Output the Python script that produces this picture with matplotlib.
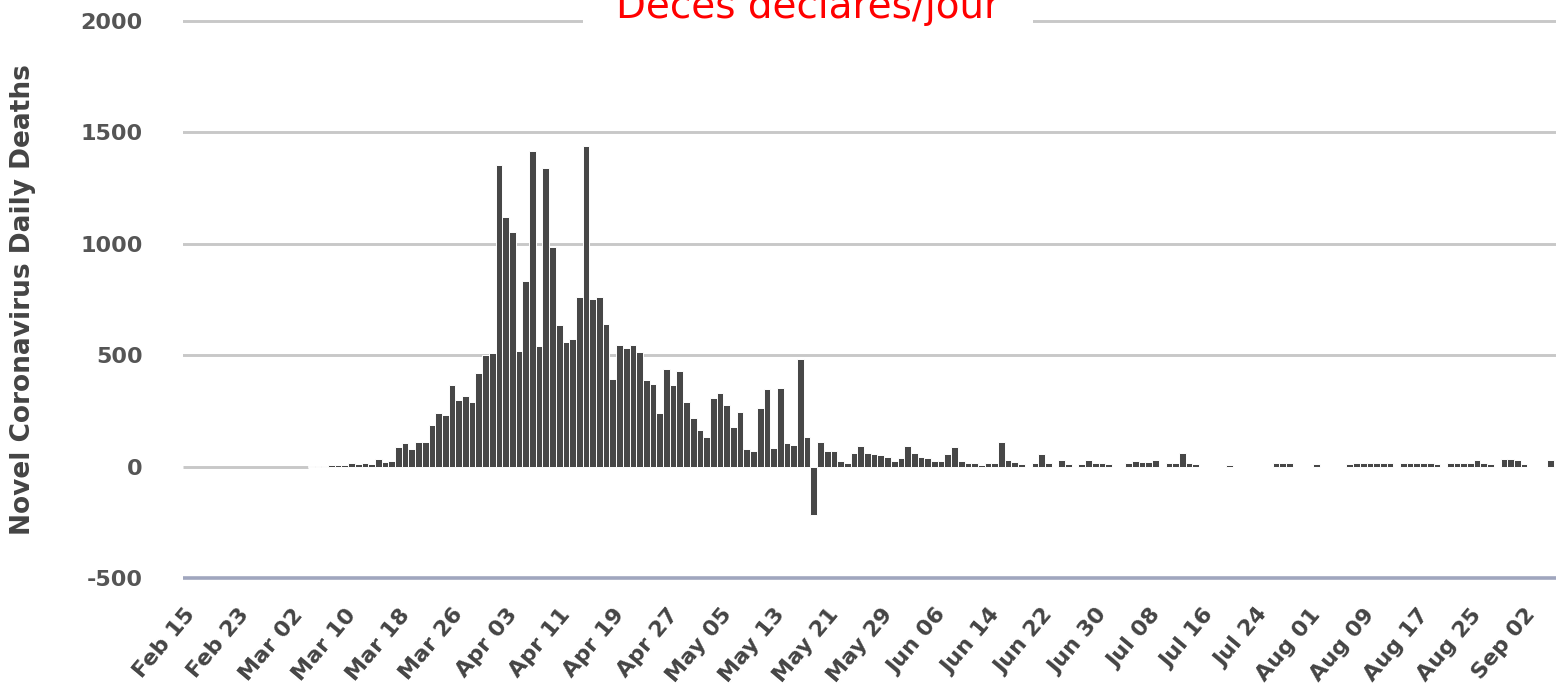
import numpy as np
import pandas as pd
import matplotlib
matplotlib.use("Agg")
import matplotlib.pyplot as plt

# ---------------- data ----------------
start_date = "2020-02-15"
# daily reported deaths (None = no data shown)
feb = [None] * 15                                   # Feb 15 - Feb 29
mar = [None] * 4 + [2, 3, 2, 8, 6,                 # Mar 1 - Mar 9
       8, 15, 13, 18, 12, 36, 21, 27,              # Mar 10 - Mar 17
       89, 108, 78, 112, 112, 186, 240, 231, 365, 299, 319, 292, 418, 499]
apr = [509, 1355, 1120, 1053, 518, 833, 1417, 541, 1341, 987,
       635, 561, 574, 762, 1438, 753, 761, 642, 395, 547,
       531, 544, 516, 389, 369, 242, 437, 367, 427, 289]
may = [218, 166, 135, 306, 330, 278, 178, 243, 80, 70,
       263, 348, 83, 351, 104, 96, 483, 131, -217, 110,
       72, 72, 27, 15, 63, 94, 63, 58, 50, 45, 25]
jun = [40, 94, 63, 45, 40, 25, 25, 55, 87, 25,
       15, 15, 8, 15, 15, 111, 30, 20, 12, 0,
       15, 55, 15, 0, 30, 10, 0, 10, 30, 15]
jul = [15, 10, 0, 0, 15, 25, 20, 20, 30, 0,
       15, 15, 60, 15, 12, 0, 0, 0, 0, 8,
       0, 0, 0, 0, 0, 0, 18, 18, 15, 0, 0]
aug = [0, 10, 0, 0, 0, 0, 12, 18, 18, 18,
       18, 15, 15, 0, 15, 18, 18, 18, 15, 10,
       0, 15, 15, 18, 15, 30, 15, 10, 0, 35, 35]
sep = [30, 12, 0, 0, 0, 30]

x_tick_labels = ["Feb 15", "Feb 23", "Mar 02", "Mar 10", "Mar 18", "Mar 26",
                 "Apr 03", "Apr 11", "Apr 19", "Apr 27", "May 05", "May 13",
                 "May 21", "May 29", "Jun 06", "Jun 14", "Jun 22", "Jun 30",
                 "Jul 08", "Jul 16", "Jul 24", "Aug 01", "Aug 09", "Aug 17",
                 "Aug 25", "Sep 02"]
y_ticks = [-500, 0, 500, 1000, 1500, 2000]

title = "Décès déclarés/jour"
y_label = "Novel Coronavirus Daily Deaths"

# ---------------- build ----------------
values = feb + mar + apr + may + jun + jul + aug + sep
dates = pd.date_range(start_date, periods=len(values), freq="D")
cats = [d.strftime("%b %d") for d in dates]
idx = np.arange(len(values))
vals = np.array([np.nan if v is None else v for v in values], dtype=float)
valid = ~np.isnan(vals)
first_valid = int(np.argmax(valid))

W, H = 1556, 692
fig = plt.figure(figsize=(W / 100, H / 100), dpi=100)

ymin, ymax = -520, 2020
px_per_unit = (578 - 21) / 2500.0
top_px = 21 - (ymax - 2000) * px_per_unit
bot_px = 578 + (-500 - ymin) * px_per_unit
ax = fig.add_axes([183 / W, 1 - bot_px / H, (W - 183) / W, (bot_px - top_px) / H])

xl = (-0.15, 204.78)
ax.set_xlim(*xl)
ax.set_ylim(ymin, ymax)

grid_col = "#c8c8c8"
for yv in y_ticks:
    if yv == -500:
        ax.axhline(yv, color="#a0a6be", lw=2.6, zorder=1)
    elif yv == 0:
        ax.hlines(yv, xl[0], first_valid - 0.5, color=grid_col, lw=2.1, zorder=1)
    else:
        ax.axhline(yv, color=grid_col, lw=2.1, zorder=1)

ax.bar(idx[valid], vals[valid], width=1.0, color="#474747",
       edgecolor="white", linewidth=0.7, zorder=2)

tick_pos = [cats.index(lbl) for lbl in x_tick_labels]
ax.set_xticks(tick_pos)
ax.set_xticklabels(x_tick_labels, rotation=50, ha="right", va="top",
                   rotation_mode="anchor", fontsize=16, fontweight="bold",
                   color="#444444")
ax.set_yticks(y_ticks)
ax.set_yticklabels([str(v) for v in y_ticks], fontsize=16, fontweight="bold",
                   color="#555555")
ax.tick_params(axis="x", length=0, pad=16)
ax.tick_params(axis="y", length=0, pad=29)
for s in ax.spines.values():
    s.set_visible(False)

ax.set_ylabel(y_label, fontsize=19, fontweight="bold", color="#444444")
ax.yaxis.set_label_coords((36 - 183) / (W - 183), 0.5)

fig.text(808 / W, 1 - 18 / H, title, color="#ff0000", fontsize=28,
         ha="center", va="baseline", zorder=5,
         bbox=dict(boxstyle="square,pad=0.85", facecolor="white", edgecolor="none"))

fig.savefig("out.png", dpi=100)
